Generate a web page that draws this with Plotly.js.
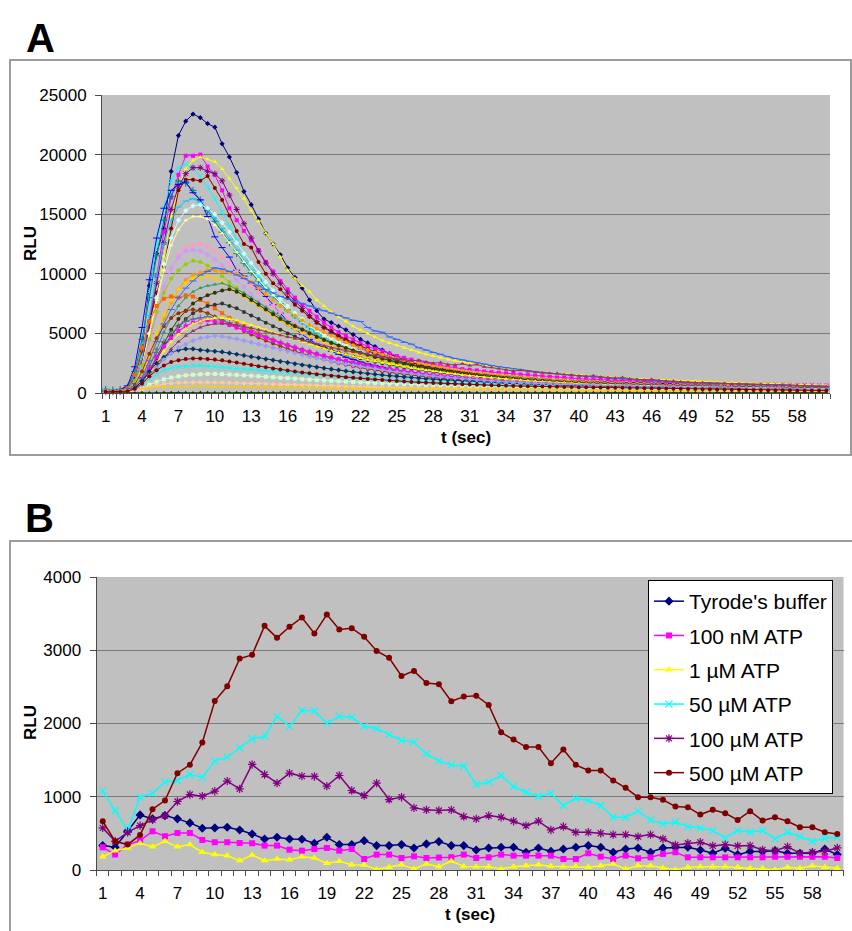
<!DOCTYPE html>
<html><head><meta charset="utf-8">
<script src="https://cdn.plot.ly/plotly-3.0.1.min.js"></script>
<style>html,body{margin:0;padding:0;background:#fff;}</style>
</head><body><div id="chart" style="width:852px;height:931px;"></div>
<script>
// ---------- categories & tick labels ----------
const catA = Array.from({length:100}, (_, i) => i + 1);      // 100 readings, 0.6 s apart
const tickPosA = [1,6,11,16,21,26,31,36,41,46,51,56,61,66,71,76,81,86,91,96];
const tickLabA = ['1','4','7','10','13','16','19','22','25','28','31','34','37','40','43','46','49','52','55','58'];
const catB = Array.from({length:60}, (_, i) => i + 1);       // 60 readings, 1 s apart
const tickPosB = [1,4,7,10,13,16,19,22,25,28,31,34,37,40,43,46,49,52,55,58];
const tickLabB = ['1','4','7','10','13','16','19','22','25','28','31','34','37','40','43','46','49','52','55','58'];

// ---------- panel A : individual wells (RLU) ----------
const a01=[150,100,120,300,1400,3700,9000,11700,13800,18600,21600,22800,23400,23100,22600,22300,20900,19800,18500,16900,15800,14600,13400,12500,11600,10500,9700,8800,7800,6900,6200,5900,5600,5300,4900,4500,4200,3900,3600,3300,3000,2800,2600,2400,2200,2100,2000,1900,1800,1700,1650,1600,1550,1500,1450,1400,1350,1300,1250,1200,1150,1100,1080,1050,1020,1000,980,950,920,900,880,860,840,820,800,780,760,740,720,700,690,680,670,660,650,640,630,620,610,600,590,580,570,560,550,540,530,520,510,500];
const a02=[200,150,100,250,900,2600,6000,9800,13500,16400,18300,19900,19900,20000,19000,18300,17000,15500,14500,13600,12800,12000,11000,10200,9400,8700,8000,7400,6900,6400,5900,5500,5100,4800,4500,4200,3900,3700,3500,3300,3100,2950,2800,2650,2500,2400,2300,2200,2100,2000,1950,1900,1800,1750,1700,1650,1600,1550,1500,1450,1400,1350,1300,1270,1240,1200,1170,1140,1110,1080,1050,1020,1000,980,960,940,920,900,880,860,840,820,800,790,780,770,760,750,740,730,720,710,700,690,680,670,660,650,640,630];
const a03=[100,150,100,200,700,2000,4800,8000,11500,14800,17200,18800,19500,19800,19600,19400,18800,18000,17200,16300,15300,14400,13400,12500,11400,10300,9600,9000,8500,7800,7300,6800,6400,6000,5600,5300,5000,4700,4400,4200,4000,3800,3600,3400,3250,3100,2950,2800,2700,2600,2500,2400,2300,2200,2100,2050,2000,1900,1850,1800,1750,1700,1650,1600,1550,1500,1460,1420,1380,1340,1300,1260,1230,1200,1170,1140,1110,1080,1050,1020,1000,980,960,940,920,900,880,860,840,820,800,780,760,740,720,700,690,680,670,660];
const a04=[300,200,150,350,1500,4200,8500,12500,15500,17800,18900,19200,18800,18200,17300,16300,15200,14000,12800,11700,10700,9800,9000,8300,7600,7000,6400,5900,5400,5000,4600,4300,4000,3700,3400,3200,3000,2800,2600,2450,2300,2150,2000,1900,1800,1700,1600,1520,1450,1380,1320,1260,1200,1150,1100,1060,1020,980,940,900,870,840,810,780,760,740,720,700,680,660,640,620,600,590,580,570,560,550,540,530,520,510,500,490,480,470,460,450,440,430,420,410,400,395,390,385,380,375,370,365];
const a05=[100,100,150,250,800,2400,5600,9200,12600,15400,17300,18400,18900,18900,18600,18400,17800,16600,15400,14200,13000,11900,10900,10000,9200,8400,7700,7100,6500,6000,5500,5100,4700,4400,4100,3800,3550,3300,3100,2900,2700,2550,2400,2250,2100,2000,1900,1800,1700,1620,1550,1480,1420,1360,1300,1250,1200,1160,1120,1080,1040,1000,970,940,910,880,850,830,810,790,770,750,730,710,690,670,660,650,640,630,620,610,600,590,580,570,560,550,540,530,520,510,500,490,480,470,460,450,440,430];
const a06=[200,150,200,400,1500,3500,6000,8400,10600,13800,17000,17900,17900,17800,18200,17200,16200,14900,13600,12500,12200,11000,10000,9200,8700,8000,7400,6900,6400,5900,5500,5200,4800,4500,4200,3950,3700,3450,3250,3050,2850,2700,2550,2400,2250,2150,2050,1950,1850,1750,1680,1610,1540,1470,1410,1350,1300,1250,1200,1150,1110,1070,1030,990,960,930,900,870,840,810,790,770,750,730,710,690,670,650,640,630,620,610,600,590,580,570,560,550,540,530,520,510,500,490,480,470,460,450,440,430];
const a07=[300,250,300,500,1800,4500,8000,11500,14500,16500,17800,17600,17000,16200,15300,14400,13500,12600,11700,10900,10100,9400,8700,8100,7500,7000,6500,6000,5600,5200,4800,4500,4200,3900,3650,3400,3200,3000,2800,2650,2500,2350,2200,2100,2000,1900,1800,1700,1620,1550,1480,1420,1360,1300,1250,1200,1150,1100,1060,1020,980,950,920,890,860,830,800,780,760,740,720,700,680,660,640,620,600,590,580,570,560,550,540,530,520,510,500,490,480,470,460,450,440,430,420,410,400,390,380,370];
const a08=[200,200,300,600,2200,5500,9500,13000,15500,17000,17500,17700,16800,16200,14800,13100,12200,11400,10300,9800,9200,8700,8100,7400,6700,6000,5400,4900,4500,4100,3800,3500,3250,3000,2800,2600,2450,2300,2150,2000,1900,1800,1700,1600,1520,1450,1380,1310,1250,1190,1140,1090,1040,1000,960,920,890,860,830,800,770,750,730,710,690,670,650,630,610,590,570,560,550,540,530,520,510,500,490,480,470,460,450,440,430,420,410,400,390,380,370,360,350,345,340,335,330,325,320,315];
const a09=[150,100,150,300,1100,3000,6500,9800,12500,14500,15600,16100,16300,16000,15400,14700,13800,12900,12000,11100,10300,9500,8800,8100,7500,6900,6400,5900,5500,5100,4700,4400,4100,3800,3550,3300,3100,2900,2700,2550,2400,2250,2100,2000,1900,1800,1700,1620,1540,1470,1400,1340,1280,1220,1170,1120,1080,1040,1000,960,930,900,870,840,810,780,760,740,720,700,680,660,640,620,600,590,580,570,560,550,540,530,520,510,500,490,480,470,460,450,440,430,420,410,400,395,390,385,380,375];
const a10=[100,150,100,200,700,2200,5000,8000,10800,13000,14500,15300,15700,15800,15500,15000,14300,13500,12600,11700,10900,10100,9300,8600,7900,7300,6700,6200,5700,5300,4900,4600,4300,4000,3700,3450,3200,3000,2800,2650,2500,2350,2200,2080,1970,1870,1780,1690,1610,1530,1460,1400,1340,1280,1230,1180,1130,1090,1050,1010,970,940,910,880,850,820,800,780,760,740,720,700,680,660,640,620,610,600,590,580,570,560,550,540,530,520,510,500,490,480,470,460,450,440,430,420,410,400,395,390];
const a11=[100,100,150,250,800,2300,5000,7800,10300,12400,13700,14500,14800,14800,14600,14100,13400,12600,11800,11000,10200,9500,8800,8200,7600,7000,6500,6000,5600,5200,4800,4500,4200,3900,3650,3400,3200,3000,2800,2650,2500,2350,2200,2080,1970,1870,1780,1690,1610,1530,1460,1390,1320,1260,1200,1150,1100,1060,1020,980,940,910,880,850,820,790,770,750,730,710,690,670,650,630,610,600,590,580,570,560,550,540,530,520,510,500,490,480,470,460,450,440,430,420,410,400,390,380,375,370];
const a12=[100,150,100,200,600,1800,4000,6500,8700,10400,11600,12200,12400,12500,12300,11900,11400,10800,10200,9600,9000,8400,7800,7300,6800,6300,5900,5500,5100,4800,4500,4200,3950,3700,3450,3250,3050,2850,2700,2550,2400,2270,2150,2030,1920,1820,1720,1640,1560,1480,1410,1340,1280,1220,1170,1120,1070,1030,990,950,910,880,850,820,790,760,740,720,700,680,660,640,620,600,590,580,570,560,550,540,530,520,510,500,490,480,470,460,450,440,430,420,410,400,395,390,385,380,375,370];
const a13=[100,100,100,200,700,2000,4300,6800,8900,10500,11400,11900,12000,11900,11600,11200,10700,10100,9500,8900,8300,7700,7200,6700,6200,5800,5400,5000,4700,4400,4100,3850,3600,3400,3200,3000,2820,2650,2500,2360,2230,2100,1990,1880,1780,1690,1600,1520,1450,1380,1320,1260,1200,1150,1100,1050,1010,970,930,900,870,840,810,780,760,740,720,700,680,660,640,620,600,590,580,570,560,550,540,530,520,510,500,490,480,470,460,450,440,430,420,410,400,395,390,385,380,375,370,365];
const a14=[150,100,150,300,900,2300,4500,6800,8400,9600,10300,10800,11100,11000,10700,10300,9800,9300,8800,8300,7800,7300,6900,6500,6100,5700,5400,5100,4800,4500,4250,4000,3800,3600,3400,3200,3050,2900,2750,2600,2480,2360,2250,2140,2040,1950,1860,1780,1700,1630,1560,1500,1440,1380,1330,1280,1230,1190,1150,1110,1070,1040,1010,980,950,920,900,880,860,840,820,800,780,760,740,720,700,690,680,670,660,650,640,630,620,610,600,590,580,570,560,550,540,530,520,510,500,490,480,470];
const a15=[100,150,100,200,500,1300,2800,4500,6200,7600,8700,9500,9900,10100,10300,10300,10200,10100,10000,9700,9300,8800,8300,7800,7300,6900,6500,6100,5700,5400,5100,4800,4500,4250,4000,3800,3600,3400,3200,3050,2900,2750,2600,2480,2360,2250,2150,2050,1950,1860,1780,1700,1630,1560,1500,1440,1380,1330,1280,1230,1180,1140,1100,1060,1020,990,960,930,900,870,840,820,800,780,760,740,720,700,690,680,670,660,650,640,630,620,610,600,590,580,570,560,550,540,530,520,510,500,490,480];
const a16=[150,100,100,200,600,1500,3200,5000,6600,7800,8700,9200,9600,9700,9800,9600,9300,8900,8500,8100,7700,7300,6900,6500,6100,5800,5400,5100,4800,4500,4250,4000,3750,3550,3350,3150,2980,2820,2670,2530,2400,2280,2160,2050,1950,1860,1770,1690,1610,1540,1470,1410,1350,1290,1240,1190,1140,1100,1060,1020,980,950,920,890,860,830,800,780,760,740,720,700,680,660,640,620,600,590,580,570,560,550,540,530,520,510,500,490,480,470,460,450,440,430,420,410,400,390,380,370];
const a17=[100,100,100,150,400,1000,2200,3700,5100,6300,7300,8000,8500,8800,9000,9100,9200,9000,8700,8400,8000,7600,7200,6800,6400,6000,5700,5400,5100,4800,4500,4250,4000,3800,3600,3400,3200,3050,2900,2750,2600,2480,2360,2240,2130,2030,1940,1850,1760,1680,1610,1540,1470,1410,1350,1300,1250,1200,1150,1110,1070,1030,990,960,930,900,870,840,810,790,770,750,730,710,690,670,650,640,630,620,610,600,590,580,570,560,550,540,530,520,510,500,490,480,470,460,450,440,430,420];
const a18=[200,150,200,400,1500,3800,6000,7300,7900,8100,8000,8200,8100,7800,7500,7100,6700,6300,5900,5600,5300,5000,4700,4450,4200,4000,3800,3600,3400,3250,3100,2950,2800,2650,2520,2400,2280,2170,2070,1970,1880,1800,1720,1640,1570,1500,1440,1380,1320,1270,1220,1170,1120,1080,1040,1000,960,930,900,870,840,810,790,770,750,730,710,690,670,650,630,610,600,590,580,570,560,550,540,530,520,510,500,490,480,470,460,450,440,430,420,410,400,390,380,370,360,350,340,330];
const a19=[100,100,100,150,300,800,1800,3000,4200,5300,6200,6900,7500,7900,8200,8400,8600,8700,8500,8200,7800,7400,7000,6600,6200,5900,5600,5300,5000,4700,4450,4200,3980,3770,3570,3380,3200,3030,2870,2720,2580,2450,2330,2210,2100,2000,1900,1810,1720,1640,1570,1500,1430,1370,1310,1250,1200,1150,1100,1060,1020,980,940,910,880,850,820,800,780,760,740,720,700,680,660,640,630,620,610,600,590,580,570,560,550,540,530,520,510,500,490,480,470,460,450,440,430,420,410,400];
const a20=[100,100,100,150,300,800,1700,2800,3900,4800,5600,6200,6700,7000,7300,7400,7500,7300,7100,6800,6500,6200,5900,5600,5300,5000,4750,4500,4250,4000,3800,3600,3400,3230,3070,2920,2770,2630,2500,2380,2260,2150,2050,1950,1860,1770,1690,1610,1540,1470,1400,1340,1280,1230,1180,1130,1080,1040,1000,960,920,890,860,830,800,780,760,740,720,700,680,660,640,620,600,590,580,570,560,550,540,530,520,510,500,490,480,470,460,450,440,430,420,410,400,390,380,370,360,350];
const a21=[150,100,150,250,700,1800,3300,4600,5600,6300,6700,6900,7000,6900,6700,6400,6100,5800,5500,5200,4900,4650,4400,4150,3900,3700,3500,3300,3120,2950,2800,2650,2500,2370,2250,2130,2020,1920,1820,1730,1650,1570,1500,1430,1360,1300,1240,1190,1140,1090,1040,1000,960,920,880,850,820,790,760,730,710,690,670,650,630,610,590,570,560,550,540,530,520,510,500,490,480,470,460,450,440,430,420,410,400,390,380,370,360,350,340,330,320,310,300,295,290,285,280,275];
const a22=[100,100,100,200,500,1200,2300,3400,4300,5000,5600,6000,6200,6300,6400,6300,6100,5900,5700,5450,5200,4950,4700,4450,4200,4000,3800,3600,3420,3250,3080,2920,2770,2630,2500,2370,2250,2140,2030,1930,1840,1750,1670,1590,1520,1450,1380,1320,1260,1200,1150,1100,1050,1010,970,930,890,860,830,800,770,740,720,700,680,660,640,620,600,590,580,570,560,550,540,530,520,510,500,490,480,470,460,450,440,430,420,410,400,390,380,370,360,350,340,330,320,310,300,290];
const a23=[100,150,100,200,500,1300,2700,4300,5800,7000,8000,8800,9400,9900,10200,10500,10400,10200,9900,9600,9300,9000,8700,8400,8100,7900,7700,7500,7300,7100,6900,6700,6500,6300,6100,6000,5500,5200,5100,4700,4500,4250,4100,3800,3600,3400,3250,3050,2900,2770,2650,2530,2420,2310,2210,2120,2030,1950,1870,1800,1730,1670,1610,1550,1500,1450,1400,1350,1300,1260,1220,1180,1140,1100,1070,1040,1010,980,950,920,900,880,860,840,820,800,780,760,740,720,700,680,660,640,620,600,590,580,570,560];
const a24=[100,100,100,150,400,1000,2000,3000,3900,4600,5200,5600,5900,6000,6100,6000,5900,5700,5500,5300,5100,4850,4600,4400,4200,4000,3800,3620,3450,3280,3120,2970,2830,2690,2560,2440,2320,2210,2110,2010,1920,1830,1750,1670,1600,1530,1460,1400,1340,1280,1230,1180,1130,1080,1040,1000,960,920,890,860,830,800,780,760,740,720,700,680,660,640,620,610,600,590,580,570,560,550,540,530,520,510,500,490,480,470,460,450,440,430,420,410,400,390,380,370,360,350,340,330];
const a25=[100,100,100,150,300,800,1600,2600,3500,4300,4900,5400,5800,6000,6200,6300,6300,6200,6100,5900,5700,5500,5300,5100,4900,4700,4500,4300,4100,3900,3720,3550,3380,3220,3070,2930,2790,2660,2540,2420,2310,2200,2100,2000,1910,1820,1740,1660,1590,1520,1450,1390,1330,1270,1220,1170,1120,1070,1030,990,950,910,880,850,820,790,760,740,720,700,680,660,640,620,600,590,580,570,560,550,540,530,520,510,500,490,480,470,460,450,440,430,420,410,400,390,380,370,360,350];
const a26=[100,100,100,150,300,700,1400,2200,3000,3700,4300,4800,5200,5500,5700,5800,5800,5800,5700,5600,5450,5300,5150,5000,4850,4700,4550,4400,4250,4100,3950,3800,3700,3550,3450,3350,3250,3150,3000,2950,2850,2800,2700,2750,2600,2500,2550,2400,2350,2450,2300,2400,2200,2150,2050,1950,1850,1900,1800,1750,1700,1650,1650,1550,1500,1450,1400,1450,1350,1300,1250,1300,1200,1150,1100,1150,1050,1000,1000,950,900,860,880,820,800,820,760,780,740,720,740,700,680,700,660,640,620,600,560,520];
const a27=[100,100,100,150,400,1000,1800,2500,3000,3400,3600,3700,3700,3600,3550,3500,3450,3350,3250,3150,3050,2950,2850,2750,2650,2550,2450,2350,2260,2170,2080,2000,1920,1840,1770,1700,1630,1570,1510,1450,1400,1350,1300,1250,1200,1160,1120,1080,1040,1000,970,940,910,880,850,820,800,780,760,740,720,700,680,660,640,620,610,600,590,580,570,560,550,540,530,520,510,500,490,480,470,460,450,440,430,420,410,400,390,380,370,360,350,340,330,320,310,300,290,280];
const a28=[100,100,100,150,300,700,1200,1600,1900,2100,2200,2250,2300,2300,2250,2200,2150,2100,2050,2000,1950,1900,1850,1800,1750,1700,1650,1600,1550,1500,1450,1400,1360,1320,1280,1240,1200,1160,1120,1080,1050,1020,990,960,930,900,870,840,810,780,760,740,720,700,680,660,640,620,600,580,560,550,540,530,520,510,500,490,480,470,460,450,440,430,420,410,400,390,380,370,360,350,340,330,320,310,300,290,280,270,260,250,240,230,220,210,200,200,190,190];
const a29=[100,80,100,120,200,400,700,950,1150,1300,1400,1480,1530,1570,1600,1600,1580,1550,1520,1480,1440,1400,1360,1320,1280,1240,1200,1160,1120,1080,1050,1020,990,960,930,900,870,840,810,780,760,740,720,700,680,660,640,620,600,580,560,545,530,515,500,490,480,470,460,450,440,430,420,410,400,390,380,370,360,350,340,330,320,310,300,295,290,285,280,275,270,265,260,255,250,245,240,235,230,225,220,215,210,205,200,195,190,185,180,175];
const a30=[50,50,60,80,150,300,500,650,750,820,860,880,890,900,900,890,880,860,840,820,800,780,760,740,720,700,680,660,640,620,600,580,560,540,520,500,485,470,455,440,425,410,395,380,370,360,350,340,330,320,310,300,290,285,280,275,270,265,260,255,250,245,240,235,230,225,220,215,210,205,200,195,190,185,180,175,170,165,160,155,150,148,146,144,142,140,138,136,134,132,130,128,126,124,122,120,118,116,114,112];
const a31=[150,120,150,200,300,400,450,500,520,540,550,560,560,560,550,540,530,520,510,500,490,480,470,460,450,440,430,420,410,400,395,390,385,380,375,370,365,360,355,350,345,340,335,330,325,320,315,310,305,300,295,290,285,280,275,270,265,260,255,250,245,240,235,230,225,220,215,210,205,200,198,196,194,192,190,188,186,184,182,180,178,176,174,172,170,168,166,164,162,160,158,156,154,152,150,148,146,144,142,140];
const a32=[20,30,10,20,30,20,10,30,20,20,30,20,10,20,30,20,20,10,30,20,20,10,30,20,20,30,10,20,20,30,20,10,20,30,20,20,10,30,20,20,30,20,10,20,20,30,20,10,20,30,20,20,10,30,20,20,30,10,20,20,30,20,20,10,20,30,20,20,10,30,20,20,30,10,20,20,30,20,10,20,30,20,20,10,30,20,20,10,20,30,20,20,10,30,20,20,30,10,20,20];
const a33=[100,100,100,150,300,700,1400,2100,2800,3300,3800,4100,4400,4600,4700,4800,4750,4650,4550,4400,4250,4100,3950,3800,3650,3500,3350,3200,3050,2920,2790,2660,2540,2430,2320,2220,2120,2030,1940,1850,1770,1690,1620,1550,1480,1420,1360,1300,1250,1200,1150,1100,1060,1020,980,940,900,870,840,810,780,750,730,710,690,670,650,630,610,590,570,560,550,540,530,520,510,500,490,480,470,460,450,440,430,420,410,400,390,380,370,360,350,340,330,320,310,300,290,280];
const a34=[100,100,100,150,350,800,1400,1900,2300,2600,2750,2850,2900,2900,2850,2800,2750,2650,2550,2450,2350,2250,2150,2060,1970,1880,1800,1720,1650,1580,1510,1450,1390,1330,1280,1230,1180,1130,1090,1050,1010,970,930,900,870,840,810,780,750,730,710,690,670,650,630,610,590,570,560,550,540,530,520,510,500,490,480,470,460,450,440,430,420,410,400,390,380,370,360,350,340,330,320,310,300,290,280,270,260,250,245,240,235,230,225,220,215,210,205,200];
const seriesA = [a01,a02,a03,a04,a05,a06,a07,a08,a09,a10,a11,a12,a13,a14,a15,a16,a17,a18,a19,a20,a21,a22,a23,a24,a25,a26,a27,a28,a29,a30,a31,a32,a33,a34];

// ---------- panel B : mean response per treatment (RLU) ----------
const namesB = ["Tyrode's buffer", '100 nM ATP', '1 µM ATP', '50 µM ATP', '100 µM ATP', '500 µM ATP'];
const tyrode  =[333,310,529,752,698,743,698,643,570,575,584,547,492,424,447,424,420,365,447,347,347,401,333,333,347,301,356,388,333,333,274,301,310,310,242,301,255,287,310,333,310,242,287,301,242,301,310,310,274,228,296,210,251,251,264,228,228,228,287,210];
const atp100nM=[310,210,347,401,529,461,506,506,410,378,378,369,365,333,333,278,264,287,301,264,287,150,210,210,164,187,164,170,175,210,164,173,210,196,196,196,196,150,150,228,182,150,196,160,173,219,242,173,173,173,173,173,173,173,182,182,182,182,182,164];
const atp1uM  =[182,264,301,365,319,392,319,347,242,210,196,128,205,128,150,141,182,164,91,119,73,68,9,36,73,14,82,45,122,48,46,46,14,46,59,73,50,46,50,36,59,82,14,59,59,27,5,36,46,46,46,36,23,23,5,36,23,59,36,23];
const atp50uM =[1076,812,547,994,1049,1199,1222,1304,1268,1487,1541,1669,1792,1824,2097,1961,2180,2171,2006,2097,2088,1961,1929,1851,1769,1746,1587,1490,1435,1420,1167,1199,1290,1140,1062,1003,1049,880,980,948,880,720,720,803,684,629,652,593,575,538,438,538,515,538,424,515,456,392,433,447];
const atp100uM=[575,392,515,606,684,743,935,1031,1008,1076,1213,1108,1441,1304,1186,1322,1281,1277,1145,1290,1085,1017,1186,962,994,848,821,812,821,730,698,743,720,666,606,666,547,593,515,515,502,483,483,456,483,424,342,365,378,328,347,328,333,274,264,319,228,242,255,301];
const atp500uM=[666,392,347,479,830,948,1322,1436,1742,2307,2508,2886,2937,3333,3169,3320,3447,3228,3488,3283,3301,3183,2991,2896,2649,2718,2554,2535,2303,2367,2380,2253,1879,1783,1678,1678,1459,1646,1436,1359,1359,1222,1122,994,994,958,866,857,757,821,775,684,803,675,720,666,584,584,515,492];
const seriesB = [tyrode, atp100nM, atp1uM, atp50uM, atp100uM, atp500uM];

// ---------- styles ----------
const colorsA = ['#000080','#FF00FF','#FFFF00','#00FFFF','#800080','#800000','#008080','#0000FF','#00CCFF','#CCFFFF','#FFFF99','#FF99CC','#CC99FF','#99CC00','#FF9900','#FFCC00','#339966','#FF6600','#333300','#333333','#993300','#666699','#3366FF','#FF00FF','#FFFF00','#993366','#003366','#00FFFF','#CCFFCC','#FFCC99','#FFCC00','#003300','#9999FF','#800000'];
const symbolsA = ['diamond','square','triangle-up','x-thin-open','asterisk-open','circle','cross-thin-open','line-ew-open','line-ew-open','diamond','triangle-up','square','asterisk-open','circle','circle','diamond','triangle-up','square','circle','circle','circle','cross-thin-open','line-ew-open','square','triangle-up','triangle-up','diamond','x-thin-open','square','circle','triangle-up','triangle-up','diamond','circle'];
const colorsB = ['#000080','#FF00FF','#FFFF00','#00FFFF','#800080','#800000'];
const symbolsB = ['diamond','square','triangle-up','x-thin-open','asterisk-open','circle'];
const sizesB = [7,6,7,7,7,6];

const FONT = '"Liberation Sans", Arial, sans-serif';
const W = 852, H = 931;
const px = v => v / W, py = v => 1 - v / H;

const traces = [];
seriesA.forEach((ys, k) => {
  const thin = /open/.test(symbolsA[k]);
  traces.push({
    type:'scatter', mode:'lines+markers', x: catA, y: ys, xaxis:'x', yaxis:'y',
    showlegend:false, cliponaxis:false, hoverinfo:'skip',
    line:{color:colorsA[k], width:1},
    marker:{symbol:symbolsA[k], size: thin ? 5 : 4, color:colorsA[k], line:{color:colorsA[k], width: thin ? 1 : 0}}
  });
});
seriesB.forEach((ys, k) => {
  const thin = /open/.test(symbolsB[k]);
  traces.push({
    type:'scatter', mode:'lines+markers', x: catB, y: ys, xaxis:'x2', yaxis:'y2',
    name: namesB[k], legendgroup:'g'+k, showlegend:true, hoverinfo:'skip',
    line:{color:colorsB[k], width:1.5},
    marker:{symbol:symbolsB[k], size:sizesB[k], color:colorsB[k], line:{color:colorsB[k], width: thin ? 1.2 : 0}}
  });
});

const tickFont = {family:FONT, size:17, color:'#000'};
const xCommon = {
  tickmode:'array', ticks:'', showgrid:false, zeroline:false,
  showline:true, linecolor:'#4a4a4a', linewidth:1,
  tickfont:tickFont, ticklabelstandoff:8,
  minor:{ticks:'outside', tickmode:'linear', tick0:0.5, dtick:1, ticklen:5, tickcolor:'#4a4a4a', tickwidth:1, showgrid:false},
  fixedrange:true
};
const yCommon = {
  tickmode:'linear', tick0:0, ticks:'outside', ticklen:6, tickcolor:'#4a4a4a', tickwidth:1,
  showline:true, linecolor:'#4a4a4a', linewidth:1, tickformat:'d', separatethousands:false,
  showgrid:true, gridcolor:'#7a7a7a', gridwidth:1, zeroline:false,
  tickfont:tickFont, ticklabelstandoff:5, fixedrange:true
};

const layout = {
  width:W, height:H, margin:{l:0, r:0, t:0, b:0},
  paper_bgcolor:'#ffffff', plot_bgcolor:'#c0c0c0', hovermode:false,
  xaxis:Object.assign({}, xCommon, {domain:[px(102), px(830)], range:[0.5,100.5], tickvals:tickPosA, ticktext:tickLabA, anchor:'y'}),
  yaxis:Object.assign({}, yCommon, {domain:[py(393), py(95)], range:[0,25000], dtick:5000, anchor:'x'}),
  xaxis2:Object.assign({}, xCommon, {domain:[px(96.5), px(843.5)], range:[0.5,60.5], tickvals:tickPosB, ticktext:tickLabB, anchor:'y2'}),
  yaxis2:Object.assign({}, yCommon, {domain:[py(870), py(577)], range:[0,4000], dtick:1000, anchor:'x2'}),
  showlegend:true,
  legend:{x:px(648), y:py(580), xanchor:'left', yanchor:'top', bgcolor:'#ffffff', bordercolor:'#000000', borderwidth:1,
          font:{family:FONT, size:21, color:'#000'}, tracegroupgap:4, itemwidth:30, traceorder:'grouped'},
  shapes:[
    {type:'rect', xref:'paper', yref:'paper', x0:px(10), x1:px(851), y0:py(455), y1:py(60), line:{color:'#9c9c9c', width:2}, fillcolor:'rgba(0,0,0,0)', layer:'below'},
    {type:'rect', xref:'paper', yref:'paper', x0:px(10), x1:px(860), y0:-0.02, y1:py(541), line:{color:'#9c9c9c', width:2}, fillcolor:'rgba(0,0,0,0)', layer:'below'}
  ],
  annotations:[
    {text:'<b>A</b>', xref:'paper', yref:'paper', x:px(24), y:py(14), xanchor:'left', yanchor:'top', showarrow:false, font:{family:FONT, size:40, color:'#000'}},
    {text:'<b>B</b>', xref:'paper', yref:'paper', x:px(23), y:py(494), xanchor:'left', yanchor:'top', showarrow:false, font:{family:FONT, size:40, color:'#000'}},
    {text:'<b>RLU</b>', xref:'paper', yref:'paper', x:px(30), y:py(244), xanchor:'center', yanchor:'middle', textangle:-90, showarrow:false, font:{family:FONT, size:17, color:'#000'}},
    {text:'<b>t (sec)</b>', xref:'paper', yref:'paper', x:px(466), y:py(437), xanchor:'center', yanchor:'middle', showarrow:false, font:{family:FONT, size:17, color:'#000'}},
    {text:'<b>RLU</b>', xref:'paper', yref:'paper', x:px(30), y:py(723), xanchor:'center', yanchor:'middle', textangle:-90, showarrow:false, font:{family:FONT, size:17, color:'#000'}},
    {text:'<b>t (sec)</b>', xref:'paper', yref:'paper', x:px(470), y:py(914), xanchor:'center', yanchor:'middle', showarrow:false, font:{family:FONT, size:17, color:'#000'}}
  ]
};

Plotly.newPlot('chart', traces, layout, {staticPlot:true, displayModeBar:false});
</script></body></html>
